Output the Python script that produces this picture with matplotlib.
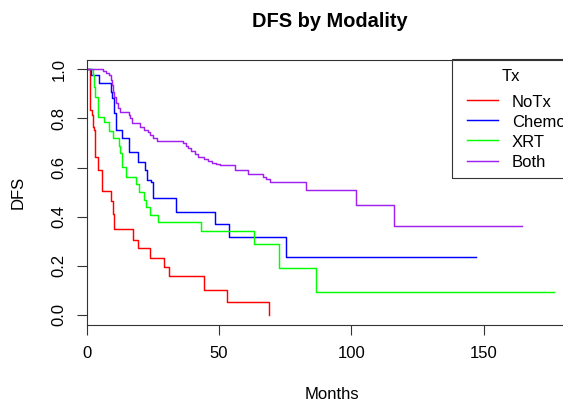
import matplotlib
matplotlib.use("Agg")
import matplotlib.pyplot as plt
from matplotlib.patches import Rectangle
from matplotlib.lines import Line2D

plt.rcParams['font.family'] = ['Liberation Sans', 'DejaVu Sans']

# Kaplan-Meier curves (months, DFS)
notx_t = [0, 1.1, 1.4, 2.0, 2.5, 2.9, 3.3, 4.2, 5.8, 9.2, 9.9, 10.5, 17.4, 19.3,
          24.0, 29.4, 31.1, 44.2, 53.2, 68.8]
notx_s = [1.0, 0.956, 0.834, 0.814, 0.767, 0.753, 0.644, 0.59, 0.505, 0.465, 0.41,
          0.349, 0.305, 0.271, 0.233, 0.194, 0.159, 0.102, 0.052, 0.0]

chemo_t = [0, 1.8, 4.8, 9.0, 9.6, 10.4, 11.1, 13.4, 15.9, 19.3, 22.1, 22.9, 24.4,
           25.0, 33.9, 48.4, 53.8, 75.2, 147.2]
chemo_s = [1.0, 0.977, 0.943, 0.909, 0.882, 0.821, 0.753, 0.719, 0.665, 0.624, 0.590,
           0.549, 0.543, 0.475, 0.42, 0.37, 0.319, 0.237, 0.237]

xrt_t = [0, 2.3, 2.9, 3.2, 4.2, 6.7, 8.4, 9.9, 12.2, 12.7, 13.3, 15.0, 18.6, 19.6,
         21.5, 22.5, 24.0, 27.1, 43.3, 63.1, 72.7, 86.5, 176.5]
xrt_s = [1.0, 0.977, 0.93, 0.889, 0.807, 0.787, 0.75, 0.719, 0.688, 0.658, 0.601,
         0.563, 0.532, 0.499, 0.468, 0.441, 0.407, 0.377, 0.343, 0.288, 0.19, 0.095, 0.095]

both_t = [0, 6.1, 7.3, 8.3, 9.2, 9.6, 10.1, 10.5, 10.9, 11.7, 12.4, 15.9, 16.4, 17.1,
          20.0, 21.5, 23.1, 23.8, 25.0, 26.5, 36.4, 37.4, 38.3, 39.5, 40.8, 42.1, 44.2,
          45.8, 47.5, 48.7, 50.3, 55.9, 61.0, 66.7, 67.9, 69.2, 82.8, 101.8, 116.0, 164.5]
both_s = [1.0, 0.994, 0.986, 0.977, 0.956, 0.936, 0.909, 0.889, 0.862, 0.841, 0.827,
          0.814, 0.8, 0.78, 0.766, 0.753, 0.746, 0.733, 0.719, 0.709, 0.701, 0.688, 0.678,
          0.669, 0.655, 0.644, 0.634, 0.627, 0.62, 0.613, 0.61, 0.59, 0.574, 0.563, 0.554,
          0.543, 0.509, 0.449, 0.361, 0.361]

groups = ['NoTx', 'Chemo', 'XRT', 'Both']
colors = ['#FF0000', '#0000FF', '#00FF00', '#A020F0']
xticks = [0, 50, 100, 150]
yticks = [0.0, 0.2, 0.4, 0.6, 0.8, 1.0]

W, H = 563, 403
def fx(px):
    return px / W
def fy(py):
    return 1 - py / H

fig = plt.figure(figsize=(W / 100, H / 100), dpi=100)
# plot region in pixels: left 86.7, right 568.3 (runs past the edge), top 59.5, bottom 324.8
ax = fig.add_axes([fx(86.7), fy(324.8), (568.3 - 86.7) / W, (324.8 - 59.5) / H])

curves = [(notx_t, notx_s), (chemo_t, chemo_s), (xrt_t, xrt_s), (both_t, both_s)]
for (t, s), c in zip(curves, colors):
    ax.step(t, s, where='post', color=c, lw=1.05)

ax.set_xlim(0, 182)
ax.set_ylim(-0.04, 1.04)
ax.set_xticks(xticks)
ax.set_xticklabels([str(v) for v in xticks], fontsize=12)
ax.set_yticks(yticks)
ax.set_yticklabels(['%.1f' % v for v in yticks], fontsize=12, rotation=90, va='center')
ax.tick_params(axis='both', length=7.2, width=0.8, color='#333333')
ax.tick_params(axis='x', pad=8)
ax.tick_params(axis='y', pad=7.5)
for sp in ax.spines.values():
    sp.set_linewidth(0.8)
    sp.set_color('#333333')

fig.text(fx(330), fy(21.5), 'DFS by Modality', fontsize=14.4, fontweight='bold',
         ha='center', va='center')
fig.text(fx(332), fy(399), 'Months', fontsize=12, ha='center', va='baseline')
fig.text(fx(18), fy(192), 'DFS', fontsize=12, rotation=90, ha='center', va='center')

# legend, drawn like R's legend("topright", title="Tx")
fig.patches.append(Rectangle((fx(451.7), fy(178.3)), (568.3 - 451.7) / W, (178.3 - 59.5) / H,
                             transform=fig.transFigure, fill=False, lw=0.8,
                             edgecolor='#333333'))
fig.text(fx(510.5), fy(80.7), 'Tx', fontsize=12, ha='center', va='baseline')
rows = [100, 120.2, 140.4, 160.6]
for g, c, r in zip(groups, colors, rows):
    fig.lines.append(Line2D([fx(466.7), fx(498.3)], [fy(r), fy(r)], color=c, lw=1.05,
                            transform=fig.transFigure))
    fig.text(fx(511.7), fy(r + 6.7), g, fontsize=12, ha='left', va='baseline')

fig.savefig('out.png', dpi=100)
